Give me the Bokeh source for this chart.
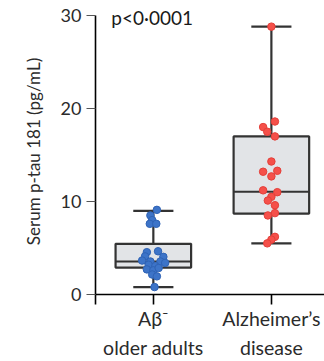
from bokeh.plotting import figure
from bokeh.models import Range1d, FixedTicker, Label, Title, ColumnDataSource, LinearAxis
from bokeh.embed import file_html
from bokeh.resources import INLINE

# ---- data ----
cat_line1 = ["A\u03b2\u207b", "Alzheimer\u2019s"]
cat_line2 = ["older adults", "disease"]
cat_pos = [0, 1]

# box statistics (pg/mL)
whisk_lo = [0.8, 5.5]
q1 = [2.9, 8.7]
median = [3.55, 11.05]
q3 = [5.45, 17.0]
whisk_hi = [9.0, 28.8]

# individual values and horizontal jitter (category units)
neg_vals = [9.1, 8.5, 8.0, 7.6, 7.6, 4.55, 4.65, 4.1, 4.05, 3.65, 3.55, 3.55,
            3.2, 3.05, 3.4, 2.7, 2.6, 2.85, 2.15, 1.95, 0.8]
neg_jit = [0.03, -0.025, -0.01, -0.03, 0.025, -0.055, 0.04, -0.07, 0.085, -0.095,
           -0.025, 0.06, -0.04, 0.017, 0.1, -0.055, 0.0, 0.045, -0.01, 0.03, 0.01]
ad_vals = [28.8, 18.6, 18.0, 17.5, 17.0, 14.3, 13.2, 13.3, 12.7, 11.2, 11.0,
           10.5, 10.1, 9.6, 8.75, 8.5, 6.2, 5.9, 5.5]
ad_jit = [0.0, 0.03, -0.07, -0.035, 0.03, 0.0, -0.07, 0.05, 0.0, -0.07, 0.05,
          0.0, -0.03, 0.03, 0.03, -0.03, 0.03, 0.0, -0.035]

y_ticks = [0, 10, 20, 30]
p_text = "p<0\u00b70001"

FONT = "Lato"
TXT = "#2b2b2b"
LINE = "#333333"
X0 = -0.49

p = figure(width=324, height=361, output_backend="svg", toolbar_location=None,
           x_range=Range1d(X0, 1.45), y_range=Range1d(0, 30.75),
           min_border_left=95, min_border_right=0, min_border_top=8,
           min_border_bottom=66)
p.outline_line_color = None
p.grid.visible = False
p.background_fill_color = "white"

# boxes
half = 0.32
cap = 0.17
box_src = ColumnDataSource(dict(
    x=cat_pos, left=[c - half for c in cat_pos], right=[c + half for c in cat_pos],
    cl=[c - cap for c in cat_pos], cr=[c + cap for c in cat_pos],
    lo=whisk_lo, q1=q1, med=median, q3=q3, hi=whisk_hi))
p.segment(x0="x", y0="q3", x1="x", y1="hi", source=box_src, line_color=LINE, line_width=2.2)
p.segment(x0="x", y0="lo", x1="x", y1="q1", source=box_src, line_color=LINE, line_width=2.2)
p.segment(x0="cl", y0="hi", x1="cr", y1="hi", source=box_src, line_color=LINE, line_width=2.2)
p.segment(x0="cl", y0="lo", x1="cr", y1="lo", source=box_src, line_color=LINE, line_width=2.2)
p.quad(left="left", right="right", bottom="q1", top="q3", source=box_src,
       fill_color="#e2e4e7", line_color=LINE, line_width=2.2)
p.segment(x0="left", y0="med", x1="right", y1="med", source=box_src, line_color=LINE, line_width=2.2)

# points
p.scatter([cat_pos[0] + j for j in neg_jit], neg_vals, size=7.5,
          fill_color="#3d74c8", line_color="#2f63b5", line_width=1)
p.scatter([cat_pos[1] + j for j in ad_jit], ad_vals, size=7.5,
          fill_color="#f5504a", line_color="#e4403a", line_width=1)

# axes
ax = p.xaxis[0]
ax.ticker = FixedTicker(ticks=[X0] + cat_pos)
ax.major_label_overrides = {X0: "", 0: cat_line1[0], 1: cat_line1[1]}
ax.major_tick_in = 0
ax.major_tick_out = 10
ax.minor_tick_out = 0
ax.minor_tick_in = 0
ax.axis_line_width = 1.6
ax.major_tick_line_width = 1.6
ax.axis_line_color = "black"
ax.major_tick_line_color = "black"
ax.major_label_text_font = FONT
ax.major_label_text_font_size = "19.5px"
ax.major_label_text_color = TXT
ax.major_label_standoff = 2

ax2 = LinearAxis(ticker=FixedTicker(ticks=cat_pos),
                 major_label_overrides={0: cat_line2[0], 1: cat_line2[1]},
                 axis_line_color=None, major_tick_line_color=None,
                 minor_tick_line_color=None, major_tick_out=0, major_tick_in=0,
                 major_label_text_font=FONT, major_label_text_font_size="19.5px",
                 major_label_text_color=TXT, major_label_standoff=3)
p.add_layout(ax2, "below")

ay = p.yaxis[0]
ay.ticker = FixedTicker(ticks=y_ticks)
ay.bounds = (0, 30)
ay.major_tick_in = 0
ay.major_tick_out = 9
ay.minor_tick_out = 0
ay.minor_tick_in = 0
ay.axis_line_width = 1.6
ay.major_tick_line_width = 1.2
ay.axis_line_color = "black"
ay.major_tick_line_color = "#555555"
ay.major_label_text_font = FONT
ay.major_label_text_font_size = "18px"
ay.major_label_text_color = TXT
ay.major_label_standoff = 5

ytitle = Title(text="Serum p-tau 181 (pg/mL)", align="center", offset=44,
               text_font=FONT, text_font_size="17px", text_font_style="normal",
               text_color=TXT, standoff=28)
p.add_layout(ytitle, "left")

p.add_layout(Label(x=-0.356, y=29.8, text=p_text, text_font=FONT,
                   text_font_size="19px", text_color="#1a1a1a",
                   text_baseline="middle", text_align="left"))

open("out.html", "w").write(file_html(p, INLINE))
